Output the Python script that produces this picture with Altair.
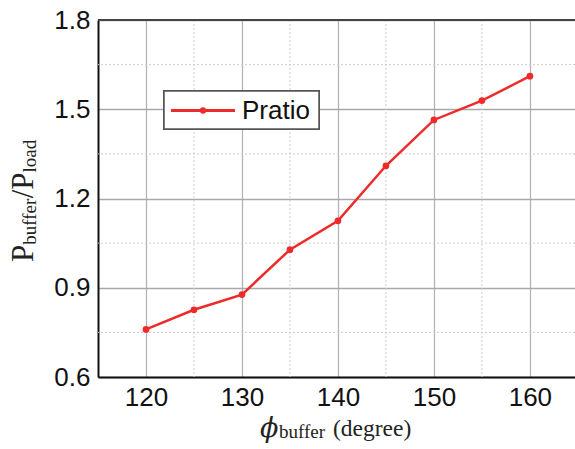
import altair as alt
import pandas as pd

# ---- data ----
phi_buffer = [120, 125, 130, 135, 140, 145, 150, 155, 160]
p_ratio = [0.760, 0.826, 0.877, 1.028, 1.125, 1.310, 1.464, 1.529, 1.611]
series_name = "Pratio"

x_major = [120, 130, 140, 150, 160]
x_minor = [125, 135, 145, 155]
y_major = [0.6, 0.9, 1.2, 1.5, 1.8]
y_minor = [0.75, 1.05, 1.35, 1.65]

W, H = 477, 357
RED = "#ee2a2a"
SANS = "Liberation Sans"
SERIF = "Liberation Serif"

df = pd.DataFrame({"phi": phi_buffer, "ratio": p_ratio})

xs = alt.Scale(domain=[115, 164.7], nice=False, zero=False)
ys = alt.Scale(domain=[0.6, 1.8], nice=False, zero=False)

x_axis = alt.Axis(values=x_major, grid=True, gridColor="#b4b4b4", gridWidth=1.3,
                  domain=True, domainColor="#111111", domainWidth=2, ticks=False,
                  labelFont=SANS, labelFontSize=26, labelColor="#111111",
                  labelPadding=7, title=None, format="d")
y_axis = alt.Axis(values=y_major, grid=True, gridColor="#a8a8a8", gridWidth=1.3,
                  domain=True, domainColor="#111111", domainWidth=2, ticks=False,
                  labelFont=SANS, labelFontSize=26, labelColor="#111111",
                  labelPadding=8, title=None, format=".1f")

base = alt.Chart(df)

vminor = alt.Chart(pd.DataFrame({"v": x_minor})).mark_rule(
    color="#cccccc", strokeDash=[2, 2], strokeWidth=1
).encode(x=alt.X("v:Q", scale=xs, axis=x_axis))
hminor = alt.Chart(pd.DataFrame({"v": y_minor})).mark_rule(
    color="#cccccc", strokeDash=[2, 2], strokeWidth=1
).encode(y=alt.Y("v:Q", scale=ys, axis=y_axis))

top_border = alt.Chart(df).mark_rule(color="#444444", strokeWidth=2).encode(
    x=alt.value(0), x2=alt.value(W), y=alt.value(0)
)

line = base.mark_line(color=RED, strokeWidth=2.5).encode(
    x=alt.X("phi:Q", scale=xs, axis=x_axis),
    y=alt.Y("ratio:Q", scale=ys, axis=y_axis),
)
pts = base.mark_circle(color=RED, size=45, opacity=1).encode(
    x=alt.X("phi:Q", scale=xs), y=alt.Y("ratio:Q", scale=ys)
)

# ---- legend (drawn box) ----
leg_box = alt.Chart(df).mark_rect(fill="white", stroke="#555555", strokeWidth=1.5).encode(
    x=alt.value(66), x2=alt.value(221), y=alt.value(71), y2=alt.value(109)
)
leg_line = alt.Chart(df).mark_rule(color=RED, strokeWidth=2.5).encode(
    x=alt.value(73), x2=alt.value(137), y=alt.value(90.5)
)
leg_pt = alt.Chart(pd.DataFrame({"a": [0]})).mark_circle(color=RED, size=40, opacity=1).encode(
    x=alt.value(105), y=alt.value(90.5)
)
leg_txt = alt.Chart(pd.DataFrame({"t": [series_name]})).mark_text(
    font=SANS, fontSize=26, align="left", baseline="middle", color="#111111"
).encode(text="t:N", x=alt.value(144), y=alt.value(91))

# ---- y title pieces: P_buffer / P_load (rotated) ----
serif_w = {"P": 0.556, "/": 0.278, "b": 0.5, "u": 0.5, "f": 0.333, "e": 0.444,
           "r": 0.333, "l": 0.278, "o": 0.5, "a": 0.444, "d": 0.5}
pieces = [("P", 31, 0), ("buffer", 19, 3), ("/P", 31, 0), ("load", 19, 3)]
ylayers = []
pos = 242.0
for txt, fs, shift in pieces:
    ylayers.append(
        alt.Chart(pd.DataFrame({"t": [txt]})).mark_text(
            font=SERIF, fontSize=fs, angle=270, align="left",
            baseline="alphabetic", color="#222222"
        ).encode(text="t:N", x=alt.value(-65 + shift), y=alt.value(pos))
    )
    pos -= sum(serif_w[c] for c in txt) * fs

# ---- x title pieces: phi_buffer (degree) ----
xt_phi = alt.Chart(pd.DataFrame({"t": ["\u03d5"]})).mark_text(
    font="DejaVu Serif", fontSize=27, fontStyle="italic", align="left",
    baseline="alphabetic", color="#222222"
).encode(text="t:N", x=alt.value(162), y=alt.value(417))
xt_sub = alt.Chart(pd.DataFrame({"t": ["buffer"]})).mark_text(
    font=SERIF, fontSize=19, align="left", baseline="alphabetic", color="#222222"
).encode(text="t:N", x=alt.value(181), y=alt.value(417.5))
xt_deg = alt.Chart(pd.DataFrame({"t": ["(degree)"]})).mark_text(
    font=SERIF, fontSize=23.5, align="left", baseline="alphabetic", color="#222222"
).encode(text="t:N", x=alt.value(235), y=alt.value(416))

chart = alt.layer(
    vminor, hminor, line, pts, top_border,
    leg_box, leg_line, leg_pt, leg_txt,
    *ylayers, xt_phi, xt_sub, xt_deg
).properties(
    width=W, height=H,
    autosize=alt.AutoSizeParams(type="none"),
    padding={"left": 98, "top": 20, "right": 0, "bottom": 72},
).configure_view(stroke=None).configure(background="white")

chart.save("out.html", embed_options={"renderer": "svg", "actions": False})
